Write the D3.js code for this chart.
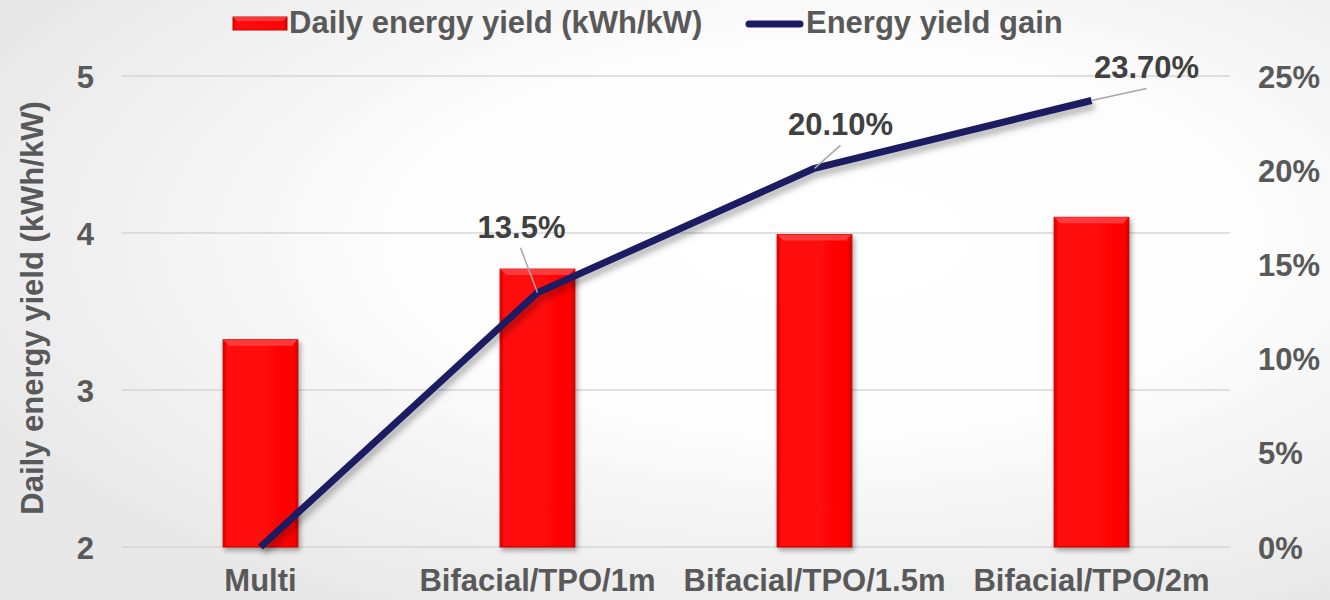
<!DOCTYPE html>
<html>
<head>
<meta charset="utf-8">
<script src="https://cdn.jsdelivr.net/npm/d3@7"></script>
<style>
  html, body { margin: 0; padding: 0; background: #fff; }
  svg { display: block; }
  text { font-family: "Liberation Sans", Arial, sans-serif; font-weight: bold; fill: #595959; }
</style>
</head>
<body>
<svg id="chart" width="1330" height="600"></svg>
<script>
// ---- data ----
const categories = ["Multi", "Bifacial/TPO/1m", "Bifacial/TPO/1.5m", "Bifacial/TPO/2m"];
const dailyYield = [3.32, 3.77, 3.99, 4.10];          // kWh/kW
const yieldGain = [0, 13.5, 20.1, 23.7];              // %
const gainLabels = ["", "13.5%", "20.10%", "23.70%"];
const leftTicks = [2, 3, 4, 5];
const rightTicks = [0, 5, 10, 15, 20, 25];
const seriesNames = ["Daily energy yield (kWh/kW)", "Energy yield gain"];
const yAxisTitle = "Daily energy yield (kWh/kW)";

// ---- layout (not data) ----
const W = 1330, H = 600;
const plot = { left: 122, right: 1230, top: 76, bottom: 547 };
const labelLayout = [null, { dx: -16, dy: -55, lx: -17, ly: -45 }, { dx: 26, dy: -33, lx: 26, ly: -23 }, { dx: 55, dy: -22, lx: 55, ly: -12 }];

const svg = d3.select("#chart");
const defs = svg.append("defs");

// background gradient
const bg = defs.append("radialGradient").attr("id", "bg")
  .attr("cx", "62%").attr("cy", "40%").attr("r", "70%");
bg.append("stop").attr("offset", "0%").attr("stop-color", "#ffffff");
bg.append("stop").attr("offset", "45%").attr("stop-color", "#fdfdfd");
bg.append("stop").attr("offset", "100%").attr("stop-color", "#e8e8e8");
svg.append("rect").attr("width", W).attr("height", H).attr("fill", "url(#bg)");

// bar gradient (bevel look)
const bgH = defs.append("linearGradient").attr("id", "barH").attr("x1", "0").attr("x2", "1").attr("y1", "0").attr("y2", "0");
bgH.append("stop").attr("offset", "0%").attr("stop-color", "#e00000");
bgH.append("stop").attr("offset", "6%").attr("stop-color", "#ff0a0a");
bgH.append("stop").attr("offset", "94%").attr("stop-color", "#ff0505");
bgH.append("stop").attr("offset", "100%").attr("stop-color", "#d00000");

const shadow = defs.append("filter").attr("id", "shadow").attr("x", "-20%").attr("y", "-20%").attr("width", "140%").attr("height", "140%");
shadow.append("feDropShadow").attr("dx", 2).attr("dy", 3).attr("stdDeviation", 2.5).attr("flood-color", "#000").attr("flood-opacity", 0.35);

const lineShadow = defs.append("filter").attr("id", "lshadow").attr("x", "-10%").attr("y", "-10%").attr("width", "120%").attr("height", "130%");
lineShadow.append("feDropShadow").attr("dx", 3).attr("dy", 5).attr("stdDeviation", 3).attr("flood-color", "#000").attr("flood-opacity", 0.3);

// ---- scales ----
const x = d3.scaleBand().domain(categories).range([plot.left, plot.right]).paddingInner(0.73).paddingOuter(0.365);
const yL = d3.scaleLinear().domain([2, 5]).range([plot.bottom, plot.top]);
const yR = d3.scaleLinear().domain([0, 25]).range([plot.bottom, plot.top]);
const cx = c => x(c) + x.bandwidth() / 2;

// gridlines
svg.append("g").selectAll("line").data(leftTicks).join("line")
  .attr("x1", plot.left).attr("x2", plot.right)
  .attr("y1", d => yL(d)).attr("y2", d => yL(d))
  .attr("stroke", "#d6d6d6").attr("stroke-width", 1.5);

// left axis
const leftAxis = svg.append("g").attr("transform", `translate(${plot.left},0)`)
  .call(d3.axisLeft(yL).tickValues(leftTicks).tickFormat(d3.format("d")).tickSize(0).tickPadding(28));
leftAxis.select(".domain").remove();
leftAxis.selectAll("text").style("font-size", "31px").attr("fill", "#595959").attr("dy", "0.36em");

// right axis
const rightAxis = svg.append("g").attr("transform", `translate(${plot.right},0)`)
  .call(d3.axisRight(yR).tickValues(rightTicks).tickFormat(d => d + "%").tickSize(0).tickPadding(28));
rightAxis.select(".domain").remove();
rightAxis.selectAll("text").style("font-size", "31px").attr("fill", "#595959").attr("dy", "0.36em");

// bottom axis labels
const bottomAxis = svg.append("g").attr("transform", `translate(0,${plot.bottom})`)
  .call(d3.axisBottom(x).tickSize(0).tickPadding(22));
bottomAxis.select(".domain").remove();
bottomAxis.selectAll("text").style("font-size", "31px").attr("fill", "#595959").attr("dy", "0.71em");

// y axis title
svg.append("text")
  .attr("transform", `translate(43,308) rotate(-90)`)
  .attr("text-anchor", "middle")
  .style("font-size", "31px")
  .text(yAxisTitle);

// bars
const bars = svg.append("g").selectAll("g").data(categories).join("g").attr("filter", "url(#shadow)");
bars.append("rect")
  .attr("x", d => x(d)).attr("width", x.bandwidth())
  .attr("y", (d, i) => yL(dailyYield[i]))
  .attr("height", (d, i) => yL(2) - yL(dailyYield[i]))
  .attr("fill", "url(#barH)").attr("stroke", "#c80000").attr("stroke-width", 1);
// top bevel highlight
const bev = 6;
bars.append("path")
  .attr("d", (d, i) => {
    const x0 = x(d), x1 = x(d) + x.bandwidth(), y0 = yL(dailyYield[i]);
    return `M${x0},${y0}L${x1},${y0}L${x1 - bev},${y0 + bev}L${x0 + bev},${y0 + bev}Z`;
  })
  .attr("fill", "#ff5050").attr("opacity", 0.7);

// line
const line = d3.line().x((d, i) => cx(categories[i])).y(d => yR(d));
svg.append("path").datum(yieldGain)
  .attr("d", line)
  .attr("fill", "none").attr("stroke", "#1b1b62").attr("stroke-width", 7)
  .attr("stroke-linejoin", "round").attr("stroke-linecap", "butt")
  .attr("filter", "url(#lshadow)");

// data labels with leader lines
const lbl = svg.append("g");
yieldGain.forEach((v, i) => {
  const L = labelLayout[i];
  if (!L || !gainLabels[i]) return;
  const px = cx(categories[i]), py = yR(v);
  lbl.append("line")
    .attr("x1", px + L.lx).attr("y1", py + L.ly).attr("x2", px).attr("y2", py)
    .attr("stroke", "#a6a6a6").attr("stroke-width", 1.5);
  lbl.append("text")
    .attr("x", px + L.dx).attr("y", py + L.dy)
    .attr("text-anchor", "middle").style("font-size", "31px")
    .style("fill", "#404040")
    .text(gainLabels[i]);
});

// legend
const lg = svg.append("g");
lg.append("rect").attr("x", 233).attr("y", 17).attr("width", 54).attr("height", 13)
  .attr("fill", "url(#barH)").attr("stroke", "#c80000").attr("stroke-width", 1);
lg.append("path").attr("d", "M233,17L287,17L283,21L237,21Z").attr("fill", "#ff5050").attr("opacity", 0.7);
lg.append("text").attr("x", 289).attr("y", 33).style("font-size", "31px").text(seriesNames[0]);
lg.append("line").attr("x1", 749).attr("x2", 800).attr("y1", 24).attr("y2", 24)
  .attr("stroke", "#1b1b62").attr("stroke-width", 7).attr("stroke-linecap", "round");
lg.append("text").attr("x", 806).attr("y", 33).style("font-size", "31px").text(seriesNames[1]);
</script>
</body>
</html>
